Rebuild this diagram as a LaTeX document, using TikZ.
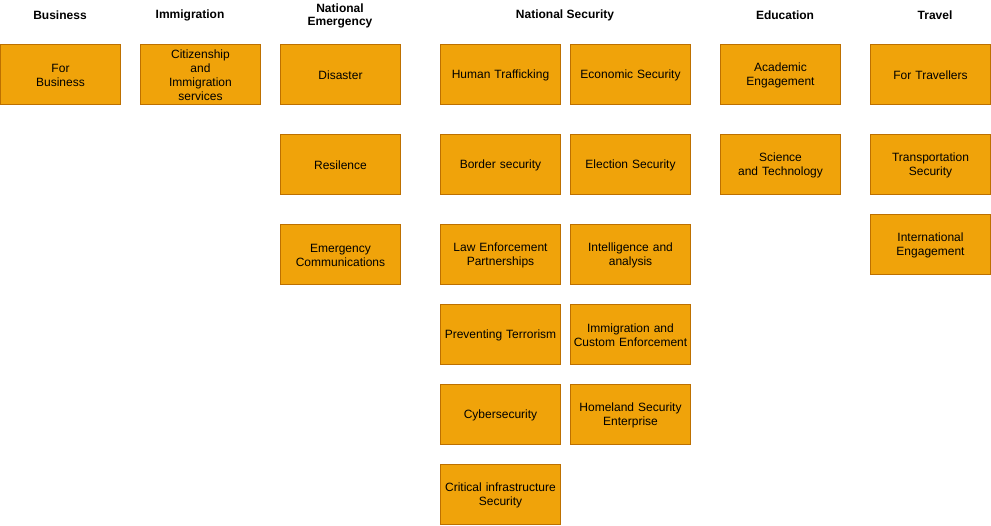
\documentclass[tikz,border=0pt]{standalone}
\usepackage{fontspec}
\setmainfont{Liberation Sans}
\definecolor{boxfill}{HTML}{F0A30A}
\definecolor{boxline}{HTML}{BD7000}
\begin{document}
\begin{tikzpicture}[x=1pt,y=-1pt,
  itemtext/.style={yshift=-1pt,inner sep=0pt,align=center,font=\fontsize{12}{14}\selectfont,text width=118pt},
  item/.style={draw=boxline,fill=boxfill,line width=1pt,minimum width=120pt,minimum height=60pt,inner sep=0pt,label={[itemtext]center:{#1}}},
  head/.style={align=center,font=\fontsize{12}{13}\selectfont\bfseries}]
\useasboundingbox (0,0) rectangle (991,525);
% headings
\node[head] (hBus) at (60,15) {Business};
\node[head] (hImm) at (190,15) {Immigration};
\node[head] (hNE) at (340,15.5) {National\\Emergency};
\node[head] (hNS) at (565,15) {National Security};
\node[head] (hEdu) at (785,15) {Education};
\node[head] (hTr) at (935,15) {Travel};
% Business
\node[item={For\\Business}] (b1) at (60.5,74.5) {};
% Immigration
\node[item={Citizenship\\and\\Immigration\\services}] (i1) at (200.5,74.5) {};
% National Emergency
\node[item={Disaster}] (e1) at (340.5,74.5) {};
\node[item={Resilence}] (e2) at (340.5,164.5) {};
\node[item={Emergency\\Communications}] (e3) at (340.5,254.5) {};
% National Security
\node[item={Human Trafficking}] (s1) at (500.5,74.5) {};
\node[item={Economic Security}] (s2) at (630.5,74.5) {};
\node[item={Border security}] (s3) at (500.5,164.5) {};
\node[item={Election Security}] (s4) at (630.5,164.5) {};
\node[item={Law Enforcement\\Partnerships}] (s5) at (500.5,254.5) {};
\node[item={Intelligence and\\analysis}] (s6) at (630.5,254.5) {};
\node[item={Preventing Terrorism}] (s7) at (500.5,334.5) {};
\node[item={Immigration and\\Custom Enforcement}] (s8) at (630.5,334.5) {};
\node[item={Cybersecurity}] (s9) at (500.5,414.5) {};
\node[item={Homeland Security\\Enterprise}] (s10) at (630.5,414.5) {};
\node[item={Critical infrastructure\\Security}] (s11) at (500.5,494.5) {};
% Education
\node[item={Academic\\Engagement}] (d1) at (780.5,74.5) {};
\node[item={Science\\and Technology}] (d2) at (780.5,164.5) {};
% Travel
\node[item={For Travellers}] (t1) at (930.5,74.5) {};
\node[item={Transportation\\Security}] (t2) at (930.5,164.5) {};
\node[item={International\\Engagement}] (t3) at (930.5,244.5) {};
\end{tikzpicture}
\end{document}
